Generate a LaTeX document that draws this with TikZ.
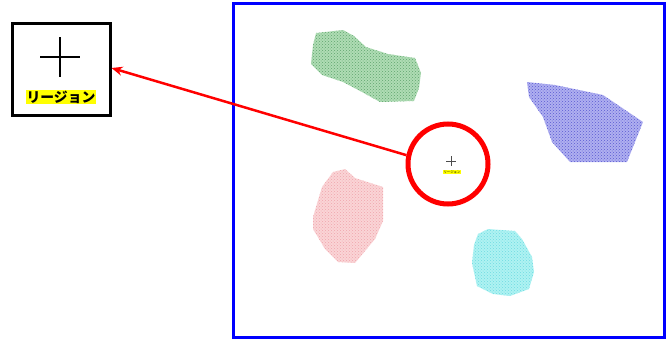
\documentclass[tikz,border=0pt]{standalone}
\usepackage{fontspec}
\newfontfamily\jp{Noto Sans CJK JP}
\usetikzlibrary{patterns,arrows.meta}
\definecolor{gfill}{RGB}{175,220,180}\definecolor{gdot}{RGB}{95,165,110}
\definecolor{bfill}{RGB}{175,175,240}\definecolor{bdot}{RGB}{90,90,210}
\definecolor{pfill}{RGB}{250,212,214}\definecolor{pdot}{RGB}{240,165,172}
\definecolor{cfill}{RGB}{175,242,242}\definecolor{cdot}{RGB}{110,220,226}
\definecolor{hl}{RGB}{255,255,0}
\tikzset{
  region/.style 2 args={fill=#1,postaction={pattern=crosshatch dots,pattern color=#2}},
  framebox/.style={draw=black,line width=3pt,minimum width=98pt,minimum height=92pt,inner sep=0pt},
  label/.style={fill=hl,inner sep=0.8pt,font=\jp\bfseries}
}
\begin{document}
\begin{tikzpicture}[x=1pt,y=-1pt]
\useasboundingbox (0,0) rectangle (668,340);
% left box
\node[framebox] (box) at (61,69) {};
\draw[line width=1.6pt] (40,57) -- (80,57) (60,37) -- (60,77);
\node[label,font=\jp\bfseries\fontsize{13.8}{13.8}\selectfont] (lbl) at (61,97) {リージョン};
% map frame
\node[draw=blue,line width=3pt,minimum width=431pt,minimum height=334pt,inner sep=0pt] (map) at (448.5,170) {};
% regions
\path[region={gfill}{gdot}] (316,33) -- (343,30) -- (354,36) -- (366,47) -- (388,54) -- (415,58) -- (421,73) -- (419,88) -- (414,101) -- (380,102) -- (362,92) -- (343,82) -- (322,75) -- (311,64) -- (313,45) -- cycle;
\path[region={bfill}{bdot}] (527,82) -- (555,85) -- (603,95) -- (643,122) -- (627,162) -- (570,162) -- (552,142) -- (543,117) -- (529,97) -- cycle;
\path[region={pfill}{pdot}] (333,172) -- (345,169) -- (355,178) -- (383,187) -- (383,221) -- (375,239) -- (355,263) -- (338,262) -- (325,249) -- (313,229) -- (313,217) -- (322,187) -- cycle;
\path[region={cfill}{cdot}] (478,234) -- (488,229) -- (515,231) -- (522,239) -- (532,257) -- (534,272) -- (529,289) -- (510,296) -- (493,294) -- (477,286) -- (472,263) -- (474,245) -- cycle;
% small marker
\draw[line width=0.5pt,black!70] (446,161) -- (456,161) (451,156) -- (451,166);
\node[fill=hl,inner sep=0.4pt,font=\jp\fontsize{3.4}{3.4}\selectfont] (slbl) at (452,172) {リージョン};
% red circle and arrow
\node[draw=red,line width=5pt,circle,minimum size=80pt,inner sep=0pt] (circ) at (448,164) {};
\draw[red,line width=2.5pt,-{Stealth[length=11pt,width=9pt]}] (circ.168) -- (box.east |- 0,68);
\end{tikzpicture}
\end{document}
